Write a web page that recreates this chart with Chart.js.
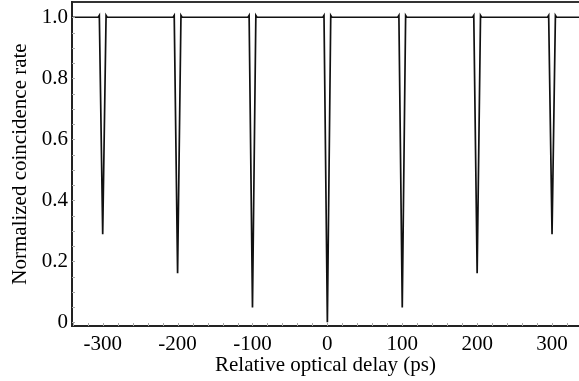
<!DOCTYPE html>
<html>
<head>
<meta charset="utf-8">
<script src="https://cdn.jsdelivr.net/npm/chart.js@4/dist/chart.umd.min.js"></script>
<style>
  html, body { margin: 0; padding: 0; background: #fff; }
  #wrap { width: 579px; height: 381px; position: relative; }
</style>
</head>
<body>
<div id="wrap"><canvas id="hom"></canvas></div>
<script>
// Coincidence rate vs relative optical delay: flat at 1.0 with a sharp dip every 100 ps
const delays = [
  -341,
  -306, -304.5, -300, -295.5, -294,
  -206, -204.5, -200, -195.5, -194,
  -106, -104.5, -100, -95.5, -94,
  -6, -4.5, 0, 4.5, 6,
  94, 95.5, 100, 104.5, 106,
  194, 195.5, 200, 204.5, 206,
  294, 295.5, 300, 304.5, 306,
  336
];
const rates = [
  1.0,
  1.0, 1.006, 0.289, 1.006, 1.0,
  1.0, 1.006, 0.161, 1.006, 1.0,
  1.0, 1.006, 0.049, 1.006, 1.0,
  1.0, 1.006, 0.0, 1.006, 1.0,
  1.0, 1.006, 0.049, 1.006, 1.0,
  1.0, 1.006, 0.161, 1.006, 1.0,
  1.0, 1.006, 0.289, 1.006, 1.0,
  1.0
];
const xTickLabels = [-300, -200, -100, 0, 100, 200, 300];
const yTickLabels = [0, 0.2, 0.4, 0.6, 0.8, 1.0];

const serif = 'Liberation Serif, Times New Roman, serif';

// small inward minor ticks, like the original plot
const minorTicks = {
  id: 'minorTicks',
  afterDraw(chart) {
    const { ctx, chartArea } = chart;
    const x = chart.scales.x, y = chart.scales.y;
    ctx.save();
    ctx.strokeStyle = '#aaa';
    ctx.lineWidth = 1;
    ctx.beginPath();
    for (let v = -340; v <= 336; v += 20) {
      const px = Math.round(x.getPixelForValue(v)) + 0.5;
      ctx.moveTo(px, chartArea.bottom);
      ctx.lineTo(px, chartArea.bottom - 3);
    }
    for (let v = 0; v <= 1.05; v += 0.05) {
      const py = Math.round(y.getPixelForValue(v)) + 0.5;
      ctx.moveTo(chartArea.left, py);
      ctx.lineTo(chartArea.left + 3, py);
    }
    ctx.stroke();
    ctx.restore();
  }
};

new Chart(document.getElementById('hom'), {
  type: 'line',
  data: {
    datasets: [{
      data: delays.map((d, i) => ({ x: d, y: rates[i] })),
      borderColor: '#111',
      borderWidth: 1.7,
      pointRadius: 0,
      tension: 0,
      fill: false
    }]
  },
  options: {
    responsive: true,
    maintainAspectRatio: false,
    animation: false,
    layout: { padding: 0 },
    plugins: {
      legend: { display: false },
      tooltip: { enabled: false }
    },
    scales: {
      x: {
        type: 'linear',
        position: 'bottom',
        min: -341,
        max: 336,
        afterBuildTicks: s => { s.ticks = xTickLabels.map(v => ({ value: v })); },
        afterFit: s => { s.height = 55; s.paddingLeft = 0; s.paddingRight = 0; },
        grid: { display: false, drawTicks: false },
        border: { display: true, color: '#222', width: 2 },
        ticks: {
          padding: 6,
          color: '#000',
          maxRotation: 0,
          font: { family: serif, size: 21 },
          callback: v => String(v)
        },
        title: {
          display: true,
          text: 'Relative optical delay (ps)',
          color: '#000',
          font: { family: serif, size: 21 },
          padding: { top: 0, bottom: 3 }
        }
      },
      top: {
        type: 'linear',
        position: 'top',
        min: -341,
        max: 336,
        afterFit: s => { s.height = 2; },
        grid: { display: false, drawTicks: false },
        border: { display: true, color: '#333', width: 2 },
        ticks: { display: false }
      },
      y: {
        type: 'linear',
        min: -0.012,
        max: 1.05,
        afterBuildTicks: s => { s.ticks = yTickLabels.map(v => ({ value: v })); },
        afterFit: s => { s.width = 72; s.paddingTop = 0; s.paddingBottom = 0; },
        grid: { display: false, drawTicks: false },
        border: { display: true, color: '#222', width: 2 },
        ticks: {
          padding: 4,
          color: '#000',
          font: { family: serif, size: 21 },
          callback: v => (v === 0 ? '0' : v.toFixed(1))
        },
        title: {
          display: true,
          text: 'Normalized coincidence rate',
          color: '#000',
          font: { family: serif, size: 21 },
          padding: { top: 8, bottom: 2 }
        }
      }
    }
  },
  plugins: [minorTicks]
});
</script>
</body>
</html>
